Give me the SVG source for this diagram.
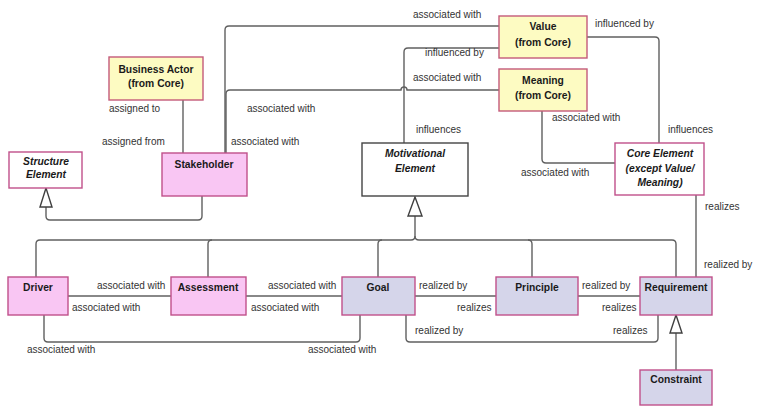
<svg xmlns="http://www.w3.org/2000/svg" width="761" height="407" viewBox="0 0 761 407">
<style>
.n rect{stroke-width:1.4}
.yel{fill:#fdfbc2;stroke:#c45a7a}
.pink{fill:#f9c6f3;stroke:#c0508a}
.lav{fill:#d5d5ea;stroke:#c0508a}
.wp{fill:#ffffff;stroke:#c0508a}
.wg{fill:#ffffff;stroke:#444444}
.t{font-family:"Liberation Sans",Arial,sans-serif;font-size:10.3px;font-weight:bold;fill:#1a1a1a;text-anchor:middle}
.i{font-style:italic}
.l{font-family:"Liberation Sans",Arial,sans-serif;font-size:10px;fill:#333333}
#connectors path{fill:none;stroke:#606060;stroke-width:1.4}
#connectors polygon{fill:#ffffff;stroke:#404040;stroke-width:1.4}
</style>
<rect width="761" height="407" fill="#ffffff"/>
<g id="connectors">
<path d="M183,100 V153"/>
<path d="M225,153 V30 Q225,26 229,26 H499"/>
<path d="M226,153 V94 Q226,90 230,90 H401 A3,3 0 0 1 407,90 H499"/>
<path d="M404,143 V52 Q404,48 408,48 H499"/>
<path d="M587,37 H655 Q659,37 659,41 V143"/>
<path d="M542,111 V159 Q542,163 546,163 H615"/>
<path d="M696,195 V277"/>
<path d="M202,196 V216 Q202,220 198,220 H50 Q46,220 46,216 V207"/>
<polygon points="46,188 40,207 52,207"/>
<path d="M415,216 V236 Q415,240 411,240 H40 Q36,240 36,244 V277"/>
<path d="M208,277 V244 Q208,240 212,240"/>
<path d="M378,277 V244 Q378,240 382,240"/>
<path d="M415,236 Q415,240 419,240 H672 Q676,240 676,244 V277"/>
<path d="M532,277 V244 Q532,240 528,240"/>
<polygon points="415,197 408,216 422,216"/>
<path d="M68,296 H171"/>
<path d="M246,296 H342"/>
<path d="M415,296 H496"/>
<path d="M578,296 H640"/>
<path d="M44,315 V338 Q44,342 48,342 H356 Q360,342 360,338 V315"/>
<path d="M406,315 V338 Q406,342 410,342 H654 Q658,342 658,338 V315"/>
<path d="M676,370 V333"/>
<polygon points="676,315 670,333 682,333"/>
<text class="l" x="109" y="112">assigned to</text>
<text class="l" x="102" y="145">assigned from</text>
<text class="l" x="247" y="112">associated with</text>
<text class="l" x="231" y="145">associated with</text>
<text class="l" x="413" y="18">associated with</text>
<text class="l" x="425" y="56">influenced by</text>
<text class="l" x="413" y="81">associated with</text>
<text class="l" x="416" y="133">influences</text>
<text class="l" x="595" y="27">influenced by</text>
<text class="l" x="668" y="133">influences</text>
<text class="l" x="552" y="121">associated with</text>
<text class="l" x="521" y="176">associated with</text>
<text class="l" x="705" y="210">realizes</text>
<text class="l" x="704" y="268">realized by</text>
<text class="l" x="97" y="289">associated with</text>
<text class="l" x="72" y="311">associated with</text>
<text class="l" x="27" y="353">associated with</text>
<text class="l" x="268" y="289">associated with</text>
<text class="l" x="251" y="311">associated with</text>
<text class="l" x="308" y="353">associated with</text>
<text class="l" x="419" y="289">realized by</text>
<text class="l" x="457" y="311">realizes</text>
<text class="l" x="415" y="334">realized by</text>
<text class="l" x="582" y="289">realized by</text>
<text class="l" x="602" y="311">realizes</text>
<text class="l" x="613" y="334">realizes</text>
</g>
<g id="business-actor" class="n"><rect class="yel" x="109" y="57" width="94" height="43"/><text class="t" x="156" y="73">Business Actor</text><text class="t" x="156" y="87">(from Core)</text></g>
<g id="structure-element" class="n"><rect class="wp" x="9" y="152" width="73" height="36"/><text class="t i" x="46" y="165">Structure</text><text class="t i" x="46" y="178">Element</text></g>
<g id="stakeholder" class="n"><rect class="pink" x="162" y="153" width="85" height="43"/><text class="t" x="204" y="168">Stakeholder</text></g>
<g id="motivational-element" class="n"><rect class="wg" x="362" y="143" width="106" height="53"/><text class="t i" x="415" y="157">Motivational</text><text class="t i" x="415" y="172">Element</text></g>
<g id="value" class="n"><rect class="yel" x="499" y="16" width="88" height="42"/><text class="t" x="543" y="30">Value</text><text class="t" x="543" y="46">(from Core)</text></g>
<g id="meaning" class="n"><rect class="yel" x="499" y="69" width="88" height="42"/><text class="t" x="543" y="84">Meaning</text><text class="t" x="543" y="99">(from Core)</text></g>
<g id="core-element" class="n"><rect class="wp" x="615" y="143" width="89" height="52"/><text class="t i" x="660" y="157">Core Element</text><text class="t i" x="660" y="172">(except Value/</text><text class="t i" x="660" y="186">Meaning)</text></g>
<g id="driver" class="n"><rect class="pink" x="8" y="277" width="60" height="38"/><text class="t" x="38" y="291">Driver</text></g>
<g id="assessment" class="n"><rect class="pink" x="171" y="277" width="75" height="38"/><text class="t" x="208" y="291">Assessment</text></g>
<g id="goal" class="n"><rect class="lav" x="342" y="277" width="73" height="38"/><text class="t" x="378" y="291">Goal</text></g>
<g id="principle" class="n"><rect class="lav" x="496" y="277" width="82" height="38"/><text class="t" x="537" y="291">Principle</text></g>
<g id="requirement" class="n"><rect class="lav" x="640" y="277" width="72" height="38"/><text class="t" x="676" y="291">Requirement</text></g>
<g id="constraint" class="n"><rect class="lav" x="640" y="370" width="72" height="35"/><text class="t" x="676" y="383">Constraint</text></g>
</svg>
